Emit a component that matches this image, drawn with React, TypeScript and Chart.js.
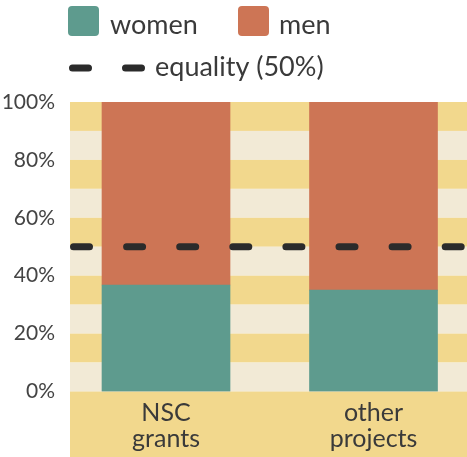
import React, { useEffect, useRef } from "react";
import { Chart, registerables } from "chart.js";

Chart.register(...registerables);

const categories: string[][] = [["NSC", "grants"], ["other", "projects"]];
const womenShare: number[] = [36.8, 35.0];
const menShare: number[] = [63.2, 65.0];
const equalityLevel = 50;
const yTicks: number[] = [0, 20, 40, 60, 80, 100];
const bandStep = 10;

const TEAL = "#5e9b8e";
const ORANGE = "#cd7555";
const YELLOW = "#f2d88d";
const CREAM = "#f2ead6";
const INK = "#2b2b2b";
const TEXT = "#3a3a3a";
const FONT = "Lato, 'Noto Sans', sans-serif";

// x positions of the two categories on a linear index axis
const catIndex = categories.map((_, i) => i);
const X_MIN = -0.4627;
const X_MAX = 1.4506;

const stripes = {
  id: "stripes",
  beforeDraw(chart: any) {
    const { ctx, chartArea, scales } = chart;
    const y = scales.y;
    ctx.save();
    let k = 0;
    for (let v = y.max; v > y.min; v -= bandStep, k++) {
      const top = y.getPixelForValue(v);
      const bottom = y.getPixelForValue(v - bandStep);
      ctx.fillStyle = k % 2 === 0 ? YELLOW : CREAM;
      ctx.fillRect(chartArea.left, top, chartArea.right - chartArea.left, bottom - top);
    }
    // band under the axis, behind the category labels
    ctx.fillStyle = YELLOW;
    ctx.fillRect(chartArea.left, chartArea.bottom, chart.width - chartArea.left, chart.height - chartArea.bottom);
    ctx.restore();
  },
};

const legendRows = {
  id: "legendRows",
  afterDraw(chart: any) {
    const { ctx } = chart;
    const ds = chart.data.datasets;
    ctx.save();
    ctx.font = `27px ${FONT}`;
    ctx.textBaseline = "alphabetic";
    const swatch = (x: number, color: string) => {
      ctx.fillStyle = color;
      ctx.beginPath();
      (ctx as any).roundRect(x, 6, 31, 30, 4);
      ctx.fill();
    };
    swatch(68, ds[0].backgroundColor);
    ctx.fillStyle = TEXT;
    ctx.fillText(ds[0].label, 110, 34);
    swatch(238, ds[1].backgroundColor);
    ctx.fillStyle = TEXT;
    ctx.fillText(ds[1].label, 279, 34);
    // dashed sample
    ctx.strokeStyle = INK;
    ctx.lineWidth = 7;
    ctx.lineCap = "round";
    ctx.beginPath();
    ctx.moveTo(72.5, 68);
    ctx.lineTo(88.5, 68);
    ctx.moveTo(125.5, 68);
    ctx.lineTo(141.5, 68);
    ctx.stroke();
    ctx.fillStyle = TEXT;
    ctx.fillText(ds[2].label, 155, 76);
    ctx.restore();
  },
};

export default function App() {
  const ref = useRef<HTMLCanvasElement | null>(null);

  useEffect(() => {
    document.body.style.margin = "0";
    const canvas = ref.current;
    if (!canvas) return;
    const chart = new Chart(canvas, {
      type: "bar",
      data: {
        datasets: [
          {
            type: "bar",
            label: "women",
            data: catIndex.map((i) => ({ x: i, y: womenShare[i] })),
            backgroundColor: TEAL,
            barThickness: 128,
            stack: "share",
            order: 2,
          },
          {
            type: "bar",
            label: "men",
            data: catIndex.map((i) => ({ x: i, y: menShare[i] })),
            backgroundColor: ORANGE,
            barThickness: 128,
            stack: "share",
            order: 2,
          },
          {
            type: "line",
            label: `equality (${equalityLevel}%)`,
            data: [
              { x: X_MIN, y: equalityLevel },
              { x: X_MAX, y: equalityLevel },
            ],
            borderColor: INK,
            borderWidth: 7,
            borderDash: [16, 37.1],
            borderDashOffset: -3.5,
            borderCapStyle: "round",
            pointRadius: 0,
            stack: "equality",
            order: 0,
          } as any,
        ],
      },
      options: {
        responsive: false,
        animation: false,
        events: [],
        layout: { padding: { top: 102, right: 0, left: 0, bottom: 0 } },
        plugins: { legend: { display: false }, tooltip: { enabled: false } },
        scales: {
          x: {
            type: "linear",
            min: X_MIN,
            max: X_MAX,
            offset: false,
            stacked: true,
            grid: { display: false, offset: false, drawTicks: false, tickLength: 0 },
            border: { display: false },
            afterBuildTicks: (scale: any) => {
              scale.ticks = catIndex.map((i) => ({ value: i }));
            },
            afterFit: (scale: any) => {
              scale.height = 65.5;
              scale.paddingLeft = 0;
              scale.paddingRight = 0;
            },
            ticks: {
              padding: 8,
              color: TEXT,
              autoSkip: false,
              maxRotation: 0,
              font: { family: FONT, size: 25, lineHeight: 1.05 },
              callback: (v: any) => categories[Math.round(Number(v))] ?? "",
            },
          },
          y: {
            type: "linear",
            min: 0,
            max: 100,
            stacked: true,
            grid: { display: false, drawTicks: false, tickLength: 0 },
            border: { display: false },
            afterBuildTicks: (scale: any) => {
              scale.ticks = yTicks.map((v) => ({ value: v }));
            },
            afterFit: (scale: any) => {
              scale.width = 70;
            },
            ticks: {
              padding: 15,
              color: "#444",
              font: { family: FONT, size: 21 },
              callback: (v: any) => `${v}%`,
            },
          },
        },
      },
      plugins: [stripes, legendRows],
    });
    return () => chart.destroy();
  }, []);

  return <canvas ref={ref} width={467} height={457} style={{ display: "block" }} />;
}
